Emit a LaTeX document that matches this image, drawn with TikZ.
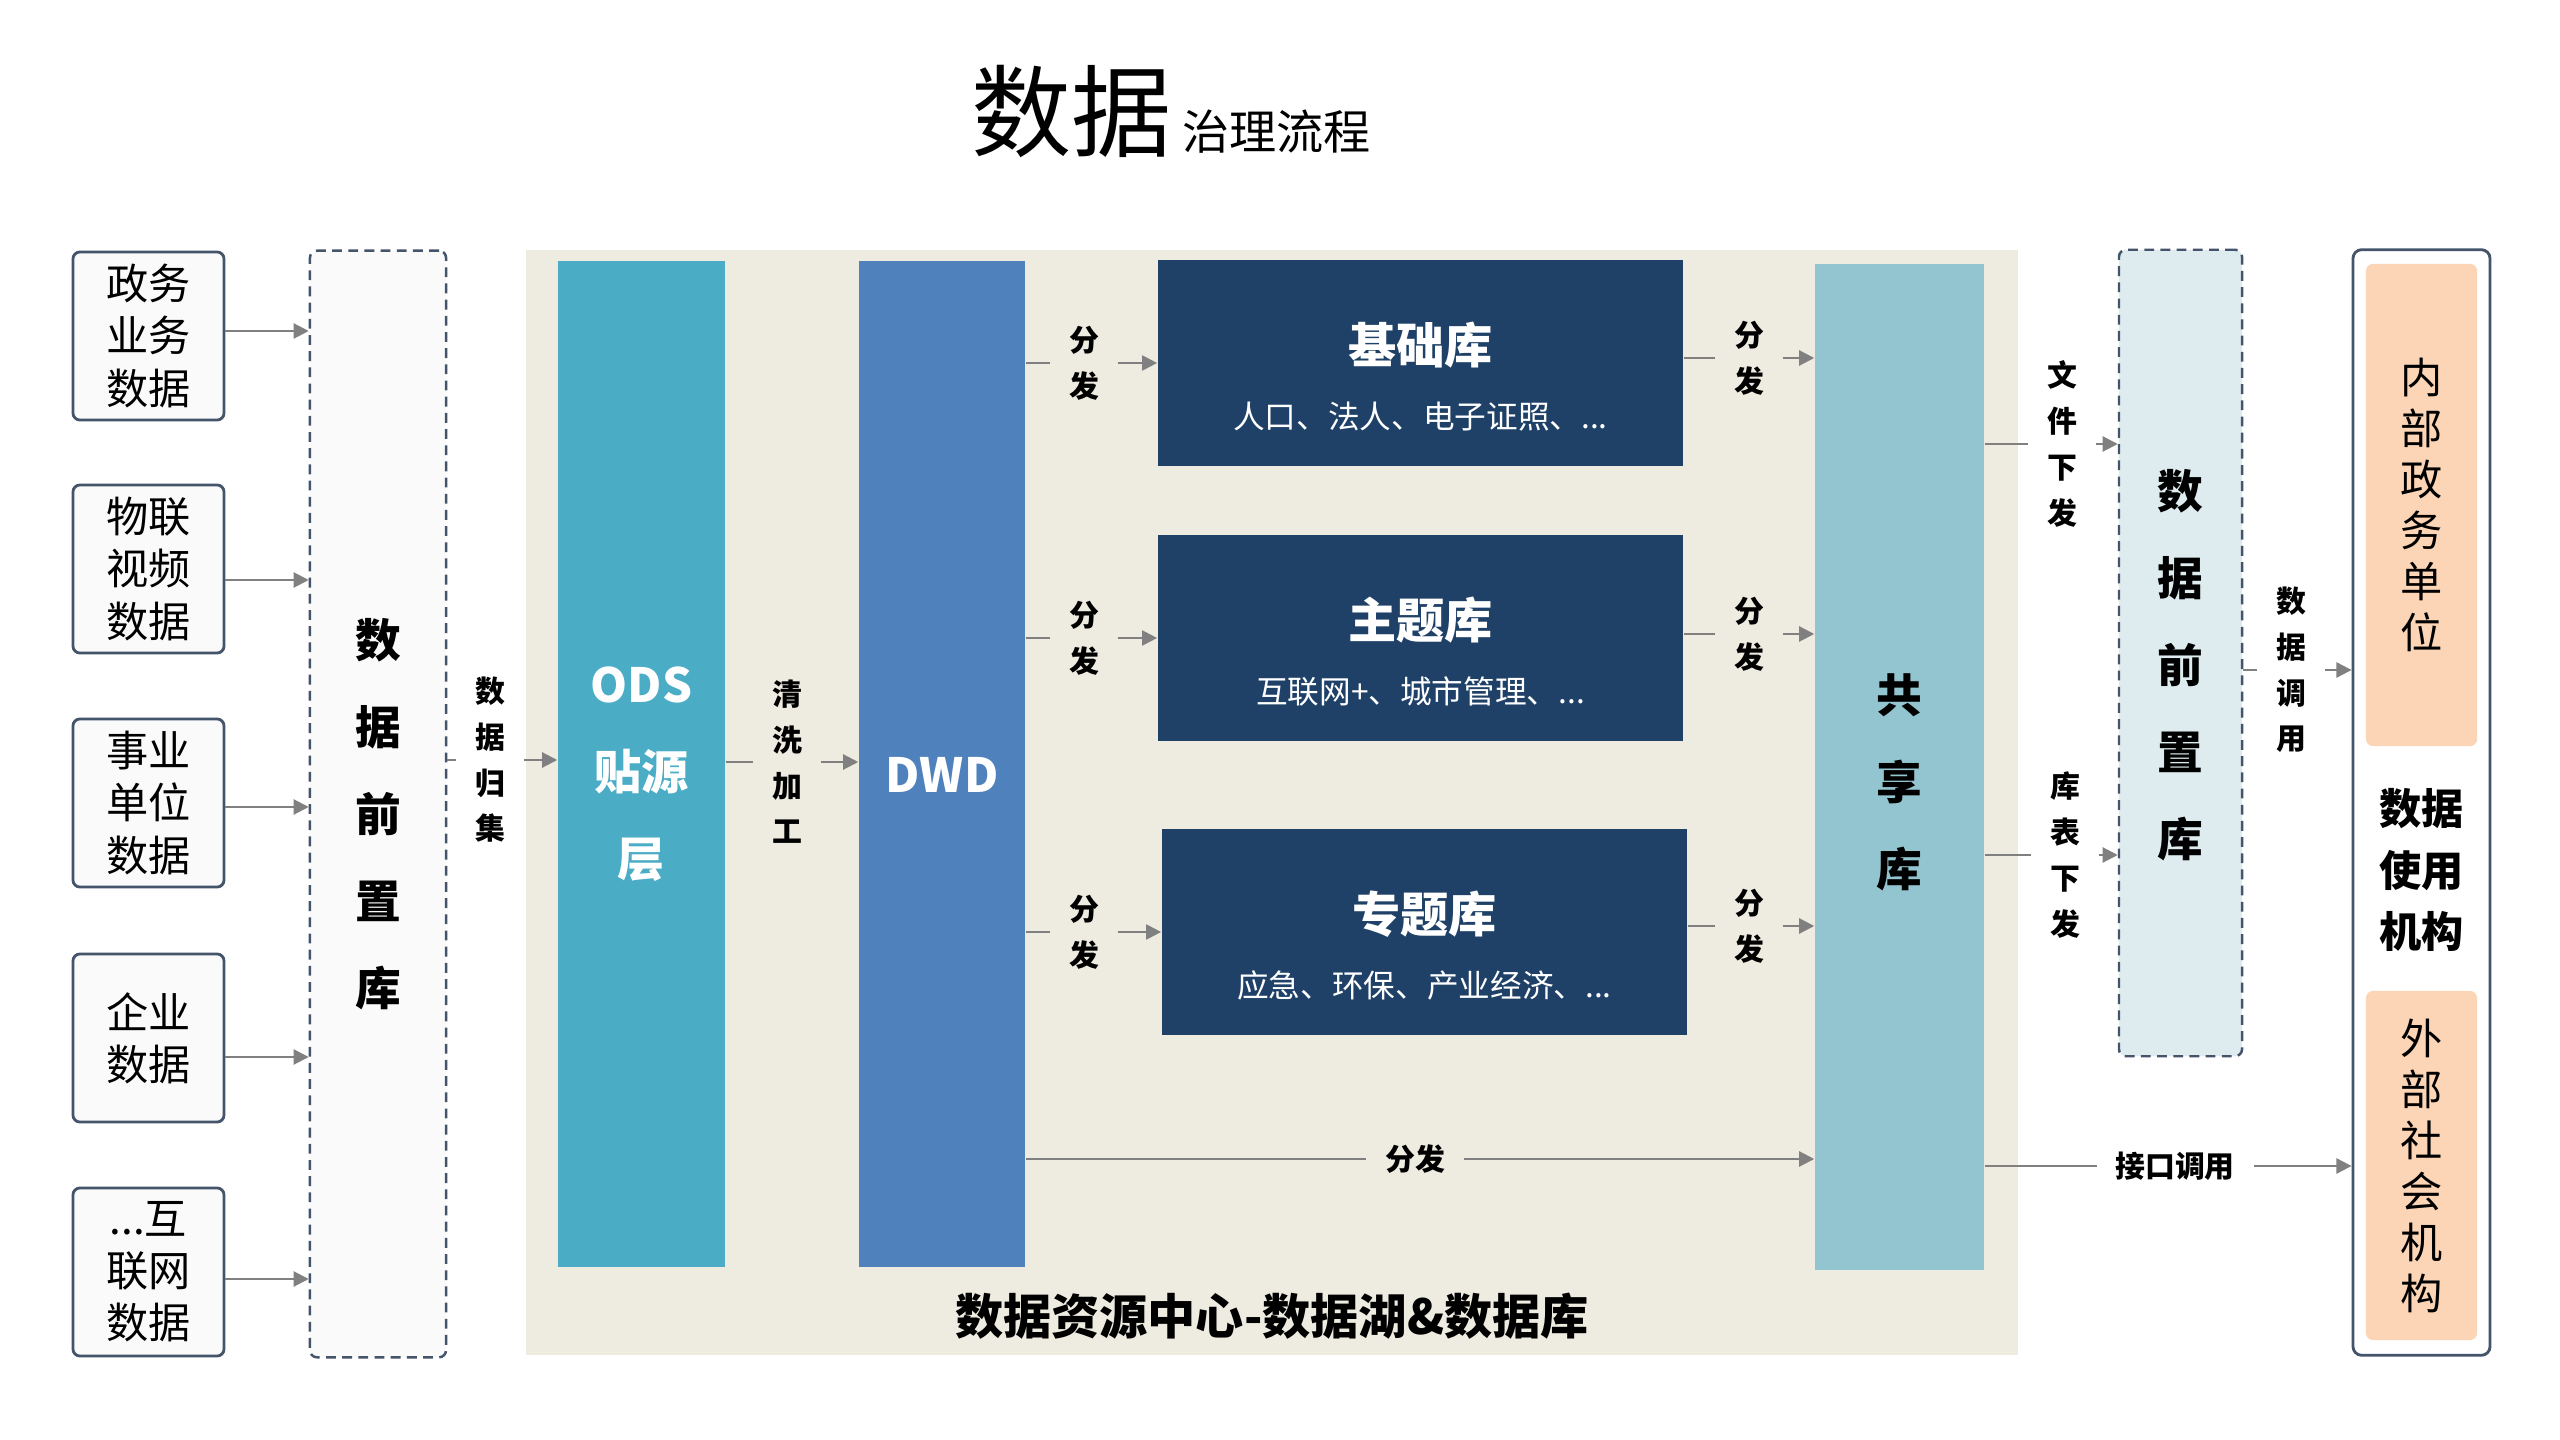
\documentclass[tikz,border=0pt]{standalone}
\usepackage{fontspec}
\setmainfont{Noto Sans CJK SC}
\usepackage{tikz}
\usetikzlibrary{arrows.meta,positioning}
\definecolor{lakeBeige}{HTML}{EEEBE1}
\definecolor{lakeTeal}{HTML}{4BACC6}
\definecolor{lakeBlue}{HTML}{4F81BD}
\definecolor{lakeNavy}{HTML}{1F4168}
\definecolor{lakeShare}{HTML}{92C5CF}
\definecolor{lakeFront}{HTML}{DEECEF}
\definecolor{lakePeach}{HTML}{FBD5B5}
\definecolor{lakeSlate}{HTML}{44546A}
\definecolor{lakeGray}{HTML}{808080}
\definecolor{lakePaper}{HTML}{FAFAFA}
% taller first line -> text sits lower in its box
\newcommand{\droprule}[1]{\rule{0pt}{#1}}
\tikzset{
  >=Triangle,
  % positions are canvas pixels (x=0.01cm, y grows downwards)
  srcbox/.style={
    rounded corners=2pt,
    draw=lakeSlate,
    fill=lakePaper,
    line width=0.8pt,
    minimum width=1.51cm,
    minimum height=1.68cm,
    inner sep=0pt,
    align=center,
    font=\fontsize{12pt}{14.8pt}\selectfont
  },
  frontbox/.style={
    rounded corners=2pt,
    draw=lakeSlate,
    dash pattern=on 2.8pt off 1.8pt,
    line width=0.7pt,
    fill=#1,
    inner sep=0pt,
    align=center,
    font=\fontsize{13pt}{24.75pt}\selectfont\bfseries
  },
  frontbox/.default=lakePaper,
  layer/.style={
    fill=#1,
    minimum width=1.67cm,
    minimum height=10.06cm,
    inner sep=0pt,
    align=center,
    text=white,
    font=\fontsize{13.4pt}{24.75pt}\selectfont\bfseries
  },
  libbox/.style={
    fill=lakeNavy,
    minimum width=5.25cm,
    minimum height=2.05cm,
    inner sep=0pt,
    align=center,
    text=white,
    font=\fontsize{9pt}{18.5pt}\selectfont
  },
  unitbox/.style={
    rounded corners=2pt,
    fill=lakePeach,
    minimum width=1.11cm,
    inner sep=0pt,
    align=center,
    font=\fontsize{12pt}{14.5pt}\selectfont
  },
  flowlabel/.style={
    font=\fontsize{8.5pt}{13pt}\selectfont\bfseries,
    align=center,
    inner xsep=0.18cm,
    inner ysep=0pt
  },
  arrow/.style={
    -{Triangle[length=4.3pt,width=4.3pt]},
    line width=0.6pt,
    draw=lakeGray
  },
  feedline/.style={
    line width=0.6pt,
    draw=lakeGray
  }
}
\begin{document}
\begin{tikzpicture}[x=0.01cm,y=-0.01cm]

\fill[white] (0,0) rectangle (2560,1440);
\useasboundingbox (0,0) rectangle (2560,1440);

\node[anchor=base west, inner sep=0pt] (title) at (971,150)
{{\fontsize{28.5pt}{30pt}\selectfont 数据}\hspace{0.1cm}{\fontsize{13.4pt}{15pt}\selectfont 治理流程}};

% data resource centre: lake panel, layers and libraries
\node[fill=lakeBeige, minimum width=14.92cm, minimum height=11.05cm, inner sep=0pt] (lake) at (1272,802.5) {};
\node[font=\fontsize{13.7pt}{16pt}\selectfont\bfseries] (laketitle) at (1272,1316) {数据资源中心-数据湖\&数据库};

\node[srcbox] (gov) at (148.5,336) {政务\\业务\\数据};
\node[srcbox] (iot) at (148.5,569) {物联\\视频\\数据};
\node[srcbox] (inst) at (148.5,803) {事业\\单位\\数据};
\node[srcbox] (ent) at (148.5,1038) {企业\\数据};
\node[srcbox] (net) at (148.5,1272) {...互\\联网\\数据};

\node[frontbox=lakePaper, minimum width=1.36cm, minimum height=11.06cm] (pre) at (378,804)
{\droprule{17.1pt}数\\据\\前\\置\\库};

% arrows leave the sources a little off centre
\foreach \s/\dy in {gov/0.05,iot/-0.11,inst/-0.04,ent/-0.19,net/-0.07}
  \draw[arrow] ([yshift=\dy cm]\s.east) -- ([yshift=\dy cm]\s -| pre.west);

\node[layer=lakeTeal] (ods) at (641.5,764) {\droprule{16.1pt}ODS\\贴源\\层};
\node[layer=lakeBlue, minimum width=1.66cm] (dwd) at (942,764) {\droprule{16.1pt}DWD};
\node[layer=lakeShare, text=black, minimum width=1.69cm, font=\fontsize{13pt}{24.75pt}\selectfont\bfseries] (share) at (1899.5,767)
{\droprule{19.9pt}共\\享\\库};

\node[flowlabel] (collect) at (490,760) {数\\据\\归\\集};
\draw[feedline] (pre.east |- collect) -- (collect);
\draw[arrow] (collect) -- (ods.west |- collect);

\node[flowlabel] (clean) at (787,762) {清\\洗\\加\\工};
\draw[feedline] (ods.east |- clean) -- (clean);
\draw[arrow] (clean) -- (dwd.west |- clean);

\node[libbox] (base) at (1420.5,363)
{\droprule{19.4pt}{\fontsize{13.7pt}{18.5pt}\selectfont\bfseries 基础库}\\人口、法人、电子证照、...};
\node[libbox] (topic) at (1420.5,638)
{\droprule{19.4pt}{\fontsize{13.7pt}{18.5pt}\selectfont\bfseries 主题库}\\互联网+、城市管理、...};
\node[libbox] (special) at (1424.5,932)
{\droprule{19.4pt}{\fontsize{13.7pt}{18.5pt}\selectfont\bfseries 专题库}\\应急、环保、产业经济、...};

\foreach \lib/\yin/\yout in {base/363/358,topic/638/634,special/932/926}{
  \node[flowlabel] (in-\lib) at (1084,\yin) {分\\发};
  \draw[feedline] (dwd.east |- in-\lib) -- (in-\lib);
  \draw[arrow] (in-\lib) -- (\lib.west |- in-\lib);
  \node[flowlabel] (out-\lib) at (1749,\yout) {分\\发};
  \draw[feedline] (\lib.east |- out-\lib) -- (out-\lib);
  \draw[arrow] (out-\lib) -- (share.west |- out-\lib);
}

\node[flowlabel] (direct) at (1415,1159) {分发};
\draw[feedline] (dwd.east |- direct) -- (direct);
\draw[arrow] (direct) -- (share.west |- direct);

% delivery to the users
\node[frontbox=lakeFront, minimum width=1.23cm, minimum height=8.06cm] (front) at (2180.5,653)
{\droprule{18.2pt}数\\据\\前\\置\\库};

\node[flowlabel] (filedown) at (2062,444) {文\\件\\下\\发};
\node[flowlabel] (tabledown) at (2065,855) {库\\表\\下\\发};
\foreach \l in {filedown,tabledown}{
  \draw[feedline] (share.east |- \l) -- (\l);
  \draw[arrow] (\l) -- (front.west |- \l);
}

\node[draw=lakeSlate, line width=0.8pt, rounded corners=2.5pt, fill=white, minimum width=1.37cm, minimum height=11.05cm, inner sep=0pt] (user) at (2421.5,802.5) {};
\node[unitbox, minimum height=4.82cm] (inner) at (2421.5,505) {内\\部\\政\\务\\单\\位};
\node[unitbox, minimum height=3.49cm] (outer) at (2421.5,1165.5) {外\\部\\社\\会\\机\\构};
\node[font=\fontsize{12pt}{17.6pt}\selectfont\bfseries, align=center] (usertext) at (2421.5,870) {数据\\使用\\机构};

\node[flowlabel] (callfront) at (2291,670) {数\\据\\调\\用};
\draw[feedline] (front.east |- callfront) -- (callfront);
\draw[arrow] (callfront) -- (user.west |- callfront);

\node[flowlabel] (api) at (2175,1166) {接口调用};
\draw[feedline] (share.east |- api) -- (api);
\draw[arrow] (api) -- (user.west |- api);

\end{tikzpicture}
\end{document}
